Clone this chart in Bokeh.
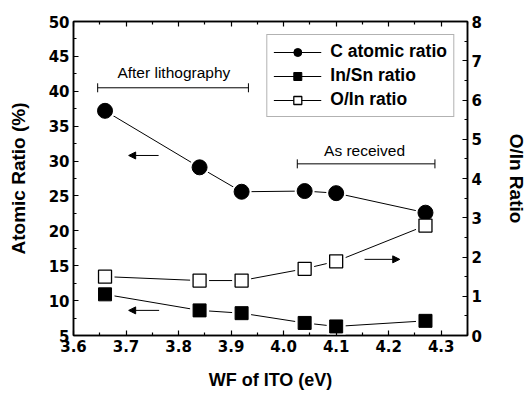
from bokeh.plotting import figure
from bokeh.models import (Range1d, LinearAxis, FixedTicker, Legend, LegendItem,
                          Whisker, Arrow, NormalHead, TeeHead, ColumnDataSource, Label,
                          CustomJSTickFormatter, PrintfTickFormatter)
from bokeh.embed import file_html
from bokeh.resources import INLINE

# ---- data ----
wf = [3.66, 3.84, 3.92, 4.04, 4.10, 4.27]
c_ratio = [37.2, 29.1, 25.6, 25.7, 25.4, 22.6]
in_sn = [10.9, 8.6, 8.2, 6.8, 6.3, 7.1]
o_in = [1.50, 1.40, 1.40, 1.70, 1.89, 2.80]

x_ticks = [3.6, 3.7, 3.8, 3.9, 4.0, 4.1, 4.2, 4.3]
x_minor = [3.65, 3.75, 3.85, 3.95, 4.05, 4.15, 4.25, 4.35]
left_ticks = [5, 10, 15, 20, 25, 30, 35, 40, 45, 50]
left_minor = [7.5, 12.5, 17.5, 22.5, 27.5, 32.5, 37.5, 42.5, 47.5]
right_ticks = [0, 1, 2, 3, 4, 5, 6, 7, 8]
right_minor = [0.5, 1.5, 2.5, 3.5, 4.5, 5.5, 6.5, 7.5]

FONT = "Liberation Sans"
TICK_FONT = "DejaVu Sans"

p = figure(width=530, height=398, x_range=Range1d(3.6, 4.35), y_range=Range1d(5, 50),
           output_backend="svg", toolbar_location=None,
           min_border_left=73, min_border_right=63, min_border_top=21, min_border_bottom=63)
p.grid.visible = False
p.outline_line_color = "black"
p.outline_line_width = 1.5
p.background_fill_color = "white"
p.border_fill_color = "white"

p.extra_y_ranges = {"oin": Range1d(0, 8)}
bottom_axis = p.below[0]
left_axis = p.left[0]
bottom_axis.axis_label = "WF of ITO (eV)"
left_axis.axis_label = "Atomic Ratio (%)"
right_axis = LinearAxis(y_range_name="oin", axis_label="O/In Ratio")
p.add_layout(right_axis, "right")
top_axis = LinearAxis()
p.add_layout(top_axis, "above")


def style(ax, ticks, minor):
    ax.ticker = FixedTicker(ticks=ticks, minor_ticks=minor)
    ax.axis_line_width = 1.5
    ax.axis_line_color = "black"
    ax.major_tick_in = 5
    ax.major_tick_out = 0
    ax.minor_tick_in = 3
    ax.minor_tick_out = 0
    ax.major_tick_line_color = "black"
    ax.minor_tick_line_color = "black"
    ax.major_tick_line_width = 1.2
    ax.minor_tick_line_width = 1.2
    ax.major_label_text_font = TICK_FONT
    ax.major_label_text_font_style = "bold"
    ax.major_label_text_font_size = "15px"
    ax.major_label_text_color = "black"
    ax.major_label_standoff = 4
    ax.axis_label_text_font = FONT
    ax.axis_label_text_font_style = "bold"
    ax.axis_label_text_font_size = "18px"
    ax.axis_label_text_color = "black"


style(bottom_axis, x_ticks, x_minor)
style(left_axis, left_ticks, left_minor)
style(right_axis, right_ticks, right_minor)
style(top_axis, x_ticks, x_minor)
bottom_axis.formatter = PrintfTickFormatter(format="%.1f")
top_axis.formatter = CustomJSTickFormatter(code="return '';")
top_axis.major_label_standoff = 0

bottom_axis.axis_label_standoff = 15
left_axis.axis_label_standoff = 17
left_axis.axis_label_text_font_size = "19px"
right_axis.axis_label_standoff = 21
right_axis.axis_label_text_font_size = "19px"

# lines
lc = p.line(wf, c_ratio, line_color="black", line_width=1)
ls = p.line(wf, in_sn, line_color="black", line_width=1)
lo = p.line(wf, o_in, line_color="black", line_width=1, y_range_name="oin")

# white halos to open gaps in the lines around markers
p.scatter(wf, c_ratio, marker="circle", size=20, fill_color="white", line_color=None)
p.scatter(wf, in_sn, marker="square", size=19, fill_color="white", line_color=None)
p.scatter(wf, o_in, marker="square", size=19, fill_color="white", line_color=None,
          y_range_name="oin")

mc = p.scatter(wf, c_ratio, marker="circle", size=15, fill_color="black", line_color="black")
ms = p.scatter(wf, in_sn, marker="square", size=13, fill_color="black", line_color="black")
mo = p.scatter(wf, o_in, marker="square", size=13, fill_color="white", line_color="black",
               line_width=1.3, y_range_name="oin")

legend = Legend(items=[
    LegendItem(label="C atomic ratio", renderers=[lc, mc]),
    LegendItem(label="In/Sn ratio", renderers=[ls, ms]),
    LegendItem(label="O/In ratio", renderers=[lo, mo]),
], location="top_right")
legend.margin = 13
legend.padding = 6
legend.spacing = 3
legend.glyph_width = 48
legend.glyph_height = 20
legend.label_height = 20
legend.label_standoff = 9
legend.label_text_font = FONT
legend.label_text_font_style = "bold"
legend.label_text_font_size = "17.5px"
legend.label_text_color = "black"
legend.border_line_color = "#666666"
legend.border_line_width = 1
legend.background_fill_color = "white"
legend.background_fill_alpha = 1
p.add_layout(legend)

# brackets
b1 = ColumnDataSource(dict(base=[40.5], lower=[3.646], upper=[3.933]))
p.add_layout(Whisker(source=b1, base="base", lower="lower", upper="upper", dimension="width",
                     line_color="black", line_width=1,
                     lower_head=TeeHead(size=9, line_color="black", line_width=1),
                     upper_head=TeeHead(size=9, line_color="black", line_width=1)))
b2 = ColumnDataSource(dict(base=[29.6], lower=[4.026], upper=[4.288]))
p.add_layout(Whisker(source=b2, base="base", lower="lower", upper="upper", dimension="width",
                     line_color="black", line_width=1,
                     lower_head=TeeHead(size=9, line_color="black", line_width=1),
                     upper_head=TeeHead(size=9, line_color="black", line_width=1)))

p.add_layout(Label(x=3.791, y=42.7, text="After lithography", text_align="center",
                   text_baseline="middle", text_font=FONT, text_font_size="15.5px",
                   text_color="black"))
p.add_layout(Label(x=4.154, y=31.5, text="As received", text_align="center",
                   text_baseline="middle", text_font=FONT, text_font_size="15.5px",
                   text_color="black"))

# arrows
def head():
    return NormalHead(size=7, fill_color="black", line_color="black", line_width=1)

p.add_layout(Arrow(end=head(), x_start=3.762, y_start=30.8, x_end=3.705, y_end=30.8,
                   line_color="black", line_width=1))
p.add_layout(Arrow(end=head(), x_start=3.763, y_start=8.6, x_end=3.705, y_end=8.6,
                   line_color="black", line_width=1))
p.add_layout(Arrow(end=head(), x_start=4.154, y_start=1.94, x_end=4.221, y_end=1.94,
                   line_color="black", line_width=1, y_range_name="oin"))

open("out.html", "w").write(file_html(p, INLINE))
